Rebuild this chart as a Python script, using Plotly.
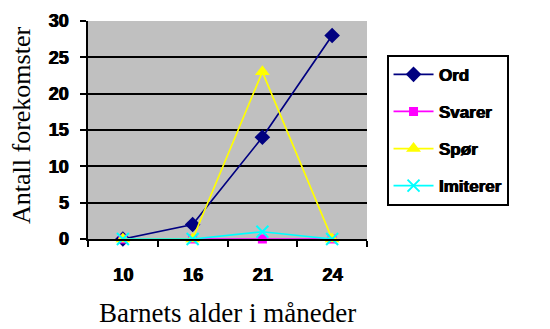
import plotly.graph_objects as go

ages = ["10", "16", "21", "24"]
ord_vals = [0, 2, 14, 28]
svarer_vals = [0, 0, 0, 0]
spor_vals = [0, 0, 23, 0]
imiterer_vals = [0, 0, 1, 0]
y_ticks = [0, 5, 10, 15, 20, 25, 30]

series = [
    ("Ord", ord_vals, "#000080", dict(symbol="diamond", size=12, color="#000080")),
    ("Svarer", svarer_vals, "#FF00FF", dict(symbol="square", size=9, color="#FF00FF")),
    ("Spør", spor_vals, "#FFFF00", dict(symbol="triangle-up", size=13, color="#FFFF00")),
    ("Imiterer", imiterer_vals, "#00FFFF",
     dict(symbol="x-thin", size=12, color="#00FFFF", line=dict(width=2, color="#00FFFF"))),
]

fig = go.Figure()
for name, vals, col, mk in series:
    fig.add_trace(go.Scatter(
        x=ages, y=vals, name=name, legendgroup=name, mode="lines+markers",
        line=dict(color=col, width=1.7), marker=mk, cliponaxis=False,
    ))

sans = "Liberation Sans, Arial, sans-serif"
serif = "Liberation Serif, Times New Roman, serif"
# heavy label text: bold weight plus a 1px offset shadow to thicken strokes
heavy = "1px 0px 0px black, 0.5px 0px 0px black"
tick_font = dict(family=sans, size=18, color="black", weight="bold", shadow=heavy)

fig.update_layout(
    width=550, height=329,
    margin=dict(l=88, r=183, t=21, b=90),
    paper_bgcolor="white",
    plot_bgcolor="#C0C0C0",
    showlegend=True,
    legend=dict(
        x=1.07, xanchor="left", y=0.845, yanchor="top",
        bordercolor="black", borderwidth=2, bgcolor="white",
        font=dict(family=sans, size=17, color="black", weight="bold", shadow=heavy),
        tracegroupgap=12, itemwidth=40,
    ),
    xaxis=dict(
        type="category", range=[-0.5, 3.5], automargin=False,
        showgrid=False, showline=True, linecolor="black", linewidth=2,
        ticks="outside", tickson="boundaries", ticklen=6, tickcolor="black", tickwidth=2,
        tickfont=tick_font, ticklabelstandoff=18,
    ),
    yaxis=dict(
        range=[0, 30], tickvals=y_ticks, automargin=False,
        showgrid=True, gridcolor="black", gridwidth=2,
        showline=True, linecolor="black", linewidth=2,
        ticks="outside", ticklen=6, tickcolor="black", tickwidth=2,
        tickfont=tick_font, ticklabelstandoff=8,
        zeroline=False,
    ),
    annotations=[
        dict(text="Barnets alder i måneder", xref="paper", yref="paper",
             x=0.5, y=0, xanchor="center", yanchor="middle", yshift=-74,
             showarrow=False, font=dict(family=serif, size=27, color="black")),
        dict(text="Antall forekomster", xref="paper", yref="paper",
             x=0, y=0.5, xanchor="center", yanchor="middle", xshift=-67, yshift=4,
             textangle=-90, showarrow=False,
             font=dict(family=serif, size=26, color="black")),
    ],
)

fig.write_html("out.html")
